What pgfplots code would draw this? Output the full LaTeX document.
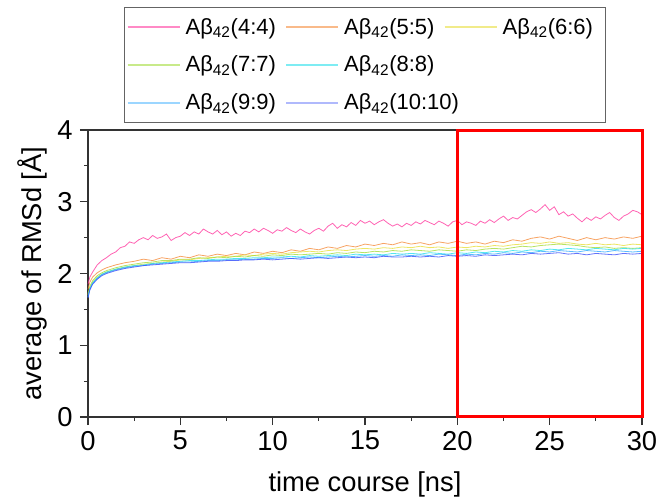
\documentclass[border=0pt]{standalone}
\usepackage{pgfplots}
\pgfplotsset{compat=1.18}
\usepackage{fontspec}
\setmainfont{Liberation Sans}

\definecolor{c4}{RGB}{255,60,160}
\definecolor{c5}{RGB}{245,140,60}
\definecolor{c6}{RGB}{232,222,60}
\definecolor{c7}{RGB}{165,220,60}
\definecolor{c8}{RGB}{40,225,235}
\definecolor{c9}{RGB}{50,170,255}
\definecolor{c10}{RGB}{60,80,250}
\definecolor{legframe}{RGB}{100,100,100}

\newcommand\ab[1]{Aβ\textsubscript{42}(#1)}

\begin{document}
\begin{tikzpicture}
\useasboundingbox (-66pt,-64.5pt) rectangle (429pt,312.75pt);
\begin{axis}[
  scale only axis,
  width=415.5pt, height=215.25pt,
  xmin=0, xmax=30, ymin=0, ymax=4,
  xtick={0,5,...,30}, ytick={0,1,2,3,4},
  minor tick num=1,
  tick align=outside,
  xtick pos=bottom, ytick pos=left,
  major tick length=6pt, minor tick length=3pt,
  axis line style={black!80, line width=0.9pt},
  every tick/.style={black!80, line width=0.9pt},
  clip=false,
  /pgf/number format/assume math mode=true,
  tick label style={font=\fontsize{20.5}{24}\selectfont},
  yticklabel style={xshift=-2pt},
  xticklabel style={yshift=-1pt},
  label style={font=\fontsize{20.5}{24}\selectfont},
  xlabel={time course [ns]},
  ylabel={average of RMSd [Å]},
  xlabel style={at={(axis description cs:0.5,0)}, anchor=base, yshift=-56pt},
  ylabel style={at={(axis description cs:-0.0848,0.5)}, anchor=base},
  legend columns=3,
  legend cell align=left,
  legend image code/.code={\path[draw, #1] (0pt,0pt) -- (39pt,0pt);},
  legend style={at={(axis description cs:0.065,1.4286)}, anchor=north west,
    fill=white, font=\fontsize{16.5}{19}\selectfont,
    inner xsep=2pt, inner ysep=6pt, row sep=11pt,
    /tikz/every odd column/.append style={column sep=2pt},
    /tikz/every even column/.append style={text width=73pt}},
  every axis legend/.append style={draw=legframe, line width=0.6pt},
  every axis plot/.append style={line width=0.6pt, opacity=0.8},
]
\addplot[c4, forget plot] coordinates {
(0,1.85) (0.1,1.95) (0.25,2.02) (0.5,2.12) (0.75,2.18) (1,2.22) (1.25,2.27) (1.5,2.30) (1.75,2.36) (2,2.38)
(2.25,2.44) (2.5,2.42) (2.75,2.47) (3,2.50) (3.25,2.47) (3.5,2.53) (3.75,2.49) (4,2.51) (4.25,2.55) (4.5,2.46)
(4.75,2.50) (5,2.52) (5.25,2.57) (5.5,2.53) (5.75,2.58) (6,2.55) (6.25,2.62) (6.5,2.58) (6.75,2.55) (7,2.60)
(7.25,2.54) (7.5,2.58) (7.75,2.52) (8,2.56) (8.25,2.53) (8.5,2.59) (8.75,2.57) (9,2.62) (9.25,2.58) (9.5,2.63)
(9.75,2.60) (10,2.56) (10.25,2.61) (10.5,2.59) (10.75,2.64) (11,2.60) (11.25,2.57) (11.5,2.62) (11.75,2.58) (12,2.55)
(12.25,2.60) (12.5,2.63) (12.75,2.59) (13,2.66) (13.25,2.70) (13.5,2.63) (13.75,2.68) (14,2.65) (14.25,2.71) (14.5,2.67)
(14.75,2.74) (15,2.70) (15.25,2.73) (15.5,2.68) (15.75,2.72) (16,2.75) (16.25,2.70) (16.5,2.66) (16.75,2.69) (17,2.65)
(17.25,2.70) (17.5,2.67) (17.75,2.72) (18,2.69) (18.25,2.74) (18.5,2.71) (18.75,2.68) (19,2.73) (19.25,2.70) (19.5,2.66)
(19.75,2.72) (20,2.74) (20.25,2.68) (20.5,2.72) (20.75,2.70) (21,2.67) (21.25,2.73) (21.5,2.70) (21.75,2.75) (22,2.71)
(22.25,2.76) (22.5,2.80) (22.75,2.74) (23,2.78) (23.25,2.76) (23.5,2.81) (23.75,2.86) (24,2.89) (24.25,2.85) (24.5,2.90)
(24.75,2.96) (25,2.88) (25.25,2.93) (25.5,2.82) (25.75,2.86) (26,2.80) (26.25,2.83) (26.5,2.77) (26.75,2.72) (27,2.78)
(27.25,2.74) (27.5,2.79) (27.75,2.76) (28,2.81) (28.25,2.85) (28.5,2.78) (28.75,2.74) (29,2.80) (29.25,2.83) (29.5,2.88)
(29.75,2.86) (30,2.82)
};
\addplot[c5, forget plot] coordinates {
(0,1.78) (0.1,1.88) (0.25,1.95) (0.5,2.01) (0.75,2.05) (1,2.08) (1.5,2.12) (2,2.15) (2.5,2.17) (3,2.20)
(3.5,2.18) (4,2.22) (4.5,2.20) (5,2.24) (5.5,2.22) (6,2.26) (6.5,2.24) (7,2.27) (7.5,2.25) (8,2.28)
(8.5,2.26) (9,2.30) (9.5,2.28) (10,2.31) (10.5,2.29) (11,2.33) (11.5,2.31) (12,2.35) (12.5,2.33) (13,2.37)
(13.5,2.35) (14,2.39) (14.5,2.37) (15,2.41) (15.5,2.39) (16,2.42) (16.5,2.40) (17,2.44) (17.5,2.41) (18,2.43)
(18.5,2.40) (19,2.44) (19.5,2.42) (20,2.45) (20.5,2.42) (21,2.44) (21.5,2.41) (22,2.45) (22.5,2.43) (23,2.47)
(23.5,2.45) (24,2.49) (24.5,2.51) (25,2.48) (25.5,2.52) (26,2.49) (26.5,2.46) (27,2.50) (27.5,2.47) (28,2.50)
(28.5,2.48) (29,2.51) (29.5,2.49) (30,2.52)
};
\addplot[c6, forget plot] coordinates {
(0,1.70) (0.1,1.80) (0.25,1.88) (0.5,1.95) (0.75,1.99) (1,2.02) (1.5,2.06) (2,2.09) (2.5,2.11) (3,2.13)
(3.5,2.14) (4,2.16) (4.5,2.17) (5,2.19) (5.5,2.19) (6,2.21) (6.5,2.22) (7,2.23) (7.5,2.24) (8,2.24)
(8.5,2.26) (9,2.25) (9.5,2.27) (10,2.28) (10.5,2.27) (11,2.29) (11.5,2.30) (12,2.31) (12.5,2.30) (13,2.32)
(13.5,2.33) (14,2.32) (14.5,2.34) (15,2.35) (15.5,2.34) (16,2.36) (16.5,2.35) (17,2.37) (17.5,2.36) (18,2.38)
(18.5,2.36) (19,2.37) (19.5,2.35) (20,2.37) (20.5,2.36) (21,2.38) (21.5,2.37) (22,2.39) (22.5,2.38) (23,2.40)
(23.5,2.41) (24,2.43) (24.5,2.42) (25,2.44) (25.5,2.42) (26,2.43) (26.5,2.41) (27,2.40) (27.5,2.42) (28,2.40)
(28.5,2.41) (29,2.39) (29.5,2.41) (30,2.40)
};
\addplot[c7, forget plot] coordinates {
(0,1.72) (0.1,1.82) (0.25,1.90) (0.5,1.97) (0.75,2.01) (1,2.04) (1.5,2.08) (2,2.11) (2.5,2.13) (3,2.15)
(3.5,2.16) (4,2.18) (4.5,2.18) (5,2.20) (5.5,2.20) (6,2.22) (6.5,2.21) (7,2.23) (7.5,2.22) (8,2.24)
(8.5,2.23) (9,2.25) (9.5,2.24) (10,2.26) (10.5,2.25) (11,2.27) (11.5,2.26) (12,2.27) (12.5,2.28) (13,2.27)
(13.5,2.29) (14,2.28) (14.5,2.30) (15,2.29) (15.5,2.31) (16,2.30) (16.5,2.32) (17,2.31) (17.5,2.33) (18,2.32)
(18.5,2.31) (19,2.33) (19.5,2.32) (20,2.31) (20.5,2.33) (21,2.32) (21.5,2.34) (22,2.35) (22.5,2.34) (23,2.36)
(23.5,2.38) (24,2.37) (24.5,2.39) (25,2.40) (25.5,2.41) (26,2.40) (26.5,2.39) (27,2.37) (27.5,2.36) (28,2.37)
(28.5,2.35) (29,2.36) (29.5,2.35) (30,2.36)
};
\addplot[c8, forget plot] coordinates {
(0,1.68) (0.1,1.79) (0.25,1.87) (0.5,1.94) (0.75,1.99) (1,2.02) (1.5,2.06) (2,2.09) (2.5,2.11) (3,2.12)
(3.5,2.14) (4,2.15) (4.5,2.16) (5,2.17) (5.5,2.18) (6,2.18) (6.5,2.19) (7,2.20) (7.5,2.20) (8,2.21)
(8.5,2.21) (9,2.22) (9.5,2.22) (10,2.23) (10.5,2.23) (11,2.24) (11.5,2.23) (12,2.25) (12.5,2.24) (13,2.25)
(13.5,2.26) (14,2.25) (14.5,2.27) (15,2.26) (15.5,2.27) (16,2.26) (16.5,2.28) (17,2.27) (17.5,2.28) (18,2.27)
(18.5,2.29) (19,2.28) (19.5,2.27) (20,2.29) (20.5,2.28) (21,2.30) (21.5,2.29) (22,2.31) (22.5,2.30) (23,2.32)
(23.5,2.31) (24,2.33) (24.5,2.32) (25,2.34) (25.5,2.33) (26,2.35) (26.5,2.34) (27,2.33) (27.5,2.35) (28,2.34)
(28.5,2.33) (29,2.35) (29.5,2.34) (30,2.35)
};
\addplot[c9, forget plot] coordinates {
(0,1.67) (0.1,1.78) (0.25,1.86) (0.5,1.93) (0.75,1.98) (1,2.01) (1.5,2.05) (2,2.08) (2.5,2.10) (3,2.11)
(3.5,2.13) (4,2.14) (4.5,2.15) (5,2.16) (5.5,2.16) (6,2.17) (6.5,2.18) (7,2.18) (7.5,2.19) (8,2.19)
(8.5,2.20) (9,2.20) (9.5,2.21) (10,2.21) (10.5,2.22) (11,2.21) (11.5,2.22) (12,2.23) (12.5,2.22) (13,2.23)
(13.5,2.24) (14,2.23) (14.5,2.24) (15,2.25) (15.5,2.24) (16,2.25) (16.5,2.24) (17,2.26) (17.5,2.25) (18,2.26)
(18.5,2.25) (19,2.27) (19.5,2.26) (20,2.25) (20.5,2.27) (21,2.26) (21.5,2.28) (22,2.27) (22.5,2.29) (23,2.28)
(23.5,2.30) (24,2.29) (24.5,2.31) (25,2.30) (25.5,2.32) (26,2.31) (26.5,2.30) (27,2.32) (27.5,2.31) (28,2.30)
(28.5,2.32) (29,2.31) (29.5,2.30) (30,2.31)
};
\addplot[c10, forget plot] coordinates {
(0,1.66) (0.1,1.77) (0.25,1.85) (0.5,1.92) (0.75,1.97) (1,2.00) (1.5,2.04) (2,2.07) (2.5,2.09) (3,2.11)
(3.5,2.12) (4,2.13) (4.5,2.14) (5,2.15) (5.5,2.15) (6,2.16) (6.5,2.17) (7,2.17) (7.5,2.18) (8,2.18)
(8.5,2.19) (9,2.19) (9.5,2.20) (10,2.19) (10.5,2.20) (11,2.21) (11.5,2.20) (12,2.21) (12.5,2.22) (13,2.21)
(13.5,2.22) (14,2.23) (14.5,2.22) (15,2.23) (15.5,2.22) (16,2.24) (16.5,2.23) (17,2.23) (17.5,2.24) (18,2.23)
(18.5,2.24) (19,2.23) (19.5,2.25) (20,2.24) (20.5,2.25) (21,2.24) (21.5,2.26) (22,2.25) (22.5,2.26) (23,2.27)
(23.5,2.26) (24,2.28) (24.5,2.27) (25,2.28) (25.5,2.29) (26,2.27) (26.5,2.28) (27,2.26) (27.5,2.28) (28,2.27)
(28.5,2.26) (29,2.28) (29.5,2.27) (30,2.28)
};
% legend, in the reference's 3x3 arrangement
\addlegendimage{color=c4!75, line width=0.9pt}
\addlegendentry{\ab{4:4}}
\addlegendimage{color=c5!75, line width=0.9pt}
\addlegendentry{\ab{5:5}}
\addlegendimage{color=c6!75, line width=0.9pt}
\addlegendentry{\ab{6:6}}
\addlegendimage{color=c7!75, line width=0.9pt}
\addlegendentry{\ab{7:7}}
\addlegendimage{color=c8!75, line width=0.9pt}
\addlegendentry{\ab{8:8}}
\addlegendimage{empty legend}
\addlegendentry{}
\addlegendimage{color=c9!60, line width=0.9pt}
\addlegendentry{\ab{9:9}}
\addlegendimage{color=c10!50, line width=0.9pt}
\addlegendentry{\ab{10:10}}
% highlighted window 20-30 ns
\addplot[red, line width=2.25pt, opacity=1, forget plot] coordinates {(20,0) (20,4) (30,4) (30,0)} -- cycle;
\end{axis}
\end{tikzpicture}
\end{document}
